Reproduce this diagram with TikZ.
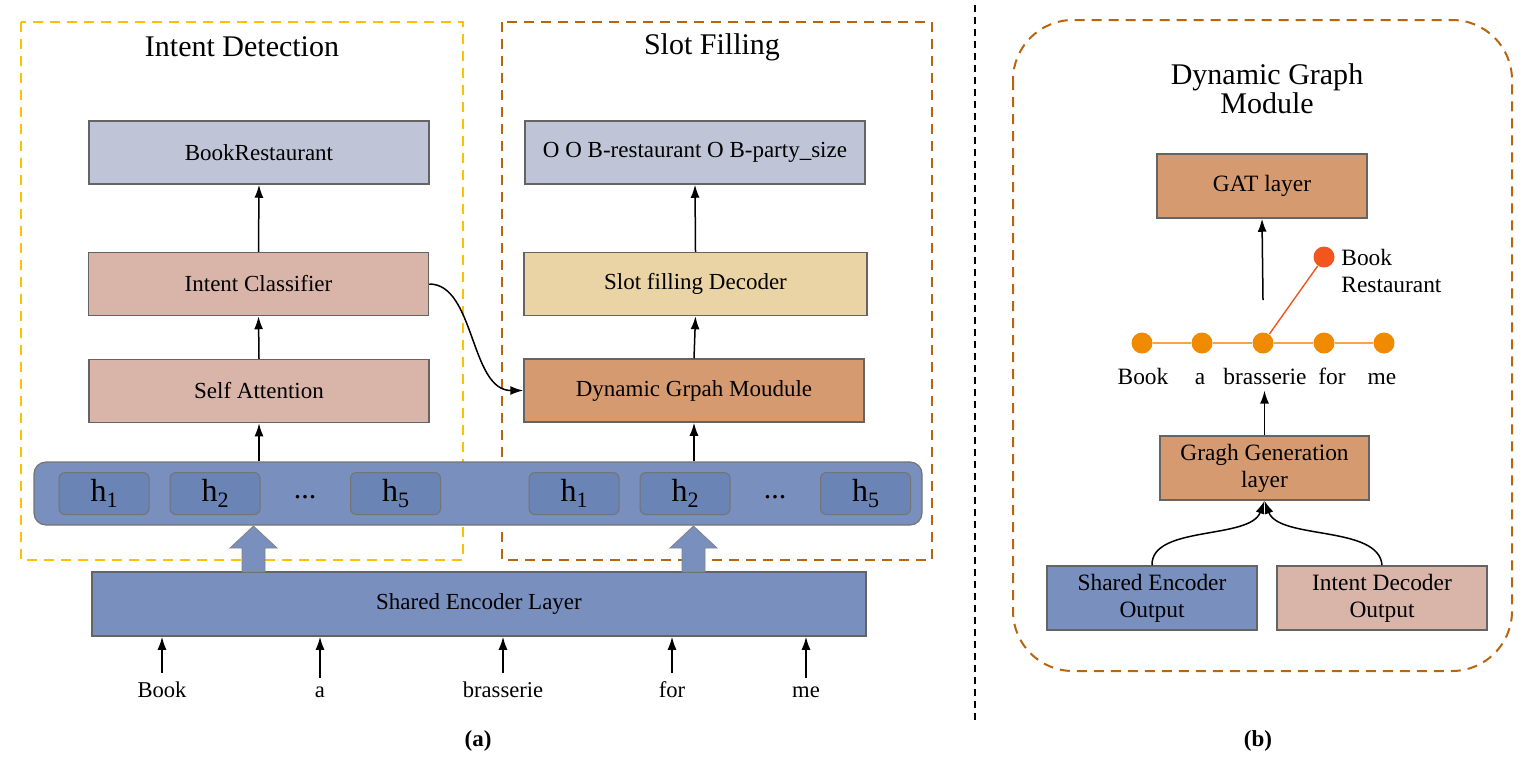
\documentclass[tikz,border=0pt]{standalone}
\usepackage{fontspec}
\setmainfont{Liberation Serif}
\usetikzlibrary{arrows.meta}
\definecolor{lav}{RGB}{191,196,214}
\definecolor{pinkb}{RGB}{217,180,168}
\definecolor{yelb}{RGB}{234,212,165}
\definecolor{orab}{RGB}{214,154,112}
\definecolor{blueb}{RGB}{121,143,190}
\definecolor{blueh}{RGB}{106,132,182}
\definecolor{yeld}{RGB}{255,192,0}
\definecolor{brownd}{RGB}{183,102,15}
\definecolor{gnode}{RGB}{240,138,0}
\definecolor{gline}{RGB}{245,165,70}
\definecolor{rnode}{RGB}{242,85,30}
\definecolor{bord}{RGB}{100,100,100}
\newcommand\hsub[1]{h\raisebox{-0.4ex}{\fontsize{11}{11}\selectfont #1}}
\tikzset{
  blk/.style={draw=bord, line width=0.75pt, minimum width=170pt, minimum height=31.5pt, inner sep=0pt, font=\fontsize{11.5}{13}\selectfont},
  sblk/.style={draw=bord, line width=0.75pt, minimum width=105pt, minimum height=32pt, inner sep=0pt, align=center, font=\fontsize{11.7}{13.5}\selectfont},
  hbox/.style={draw=bord!90, line width=0.5pt, fill=blueh, rounded corners=3pt, minimum width=45pt, minimum height=21pt, inner sep=0pt, font=\fontsize{16}{16}\selectfont},
  arr/.style={-{Latex[length=6.5pt,width=4.5pt]}, line width=0.75pt},
  word/.style={font=\fontsize{11.3}{13}\selectfont, anchor=base, inner ysep=4pt},
  gw/.style={font=\fontsize{11.7}{13}\selectfont, anchor=base, inner ysep=3pt},
  gnd/.style={circle, fill=gnode, minimum size=10.5pt, inner sep=0pt},
  ttl/.style={font=\fontsize{15}{18}\selectfont, align=center},
  dbox/.style={line width=1pt, dash pattern=on 5pt off 3.5pt},
  barrow/.style={fill=blueb, draw=bord!80, line width=0.4pt}
}
\begin{document}
\begin{tikzpicture}[x=0.5pt,y=-0.5pt]
\useasboundingbox (0,0) rectangle (1530,767);
% dashed frames
\draw[dbox, draw=yeld] (21,22) rectangle (463,560);
\draw[dbox, draw=brownd] (502,22) rectangle (932,560);
\draw[dbox, draw=brownd, rounded corners=30pt] (1013,20) rectangle (1512,671);
\draw[line width=0.6pt, dash pattern=on 3.5pt off 2.5pt] (975,5) -- (975,720);
% titles
\node[ttl] (tid) at (242,47) {Intent Detection};
\node[ttl] (tsf) at (712,47) {Slot Filling};
\node[ttl, font=\fontsize{15}{14.5}\selectfont] (tdg) at (1267,89) {Dynamic Graph\\Module};
% left column
\node[blk, fill=lav] (br) at (259,152.5) {BookRestaurant};
\node[blk, fill=pinkb] (ic) at (258.5,284) {Intent Classifier};
\node[blk, fill=pinkb] (sa) at (259,391) {Self Attention};
% right column
\node[blk, fill=lav] (so) at (695,152.5) {O O B-restaurant O B-party\_size};
\node[blk, fill=yelb, minimum width=171.5pt] (sd) at (695.5,284) {Slot filling Decoder};
\node[blk, fill=orab] (dg) at (694,390.5) {Dynamic Grpah Moudule};
% hidden bar
\node[draw=bord!90, line width=0.6pt, fill=blueb, rounded corners=6pt, minimum width=444pt, minimum height=31.5pt, inner sep=0pt] (bar) at (478,493.5) {};
\node[hbox] (h1l) at (104,493.5) {\hsub{1}};
\node[hbox] (h2l) at (215,493.5) {\hsub{2}};
\node[font=\fontsize{15}{15}\selectfont] (dl) at (305,497) {...};
\node[hbox] (h5l) at (395.5,493.5) {\hsub{5}};
\node[hbox] (h1r) at (574,493.5) {\hsub{1}};
\node[hbox] (h2r) at (685,493.5) {\hsub{2}};
\node[font=\fontsize{15}{15}\selectfont] (dr) at (775,497) {...};
\node[hbox] (h5r) at (865.5,493.5) {\hsub{5}};
% shared encoder
\node[blk, fill=blueb, minimum width=387pt, minimum height=32pt] (se) at (479,604) {Shared Encoder Layer};
% block arrows
\draw[barrow] (253.5,526) -- (277,548) -- (265,548) -- (265,572) -- (242,572) -- (242,548) -- (230,548) -- cycle;
\draw[barrow] (693.5,526) -- (717,548) -- (705,548) -- (705,572) -- (682,572) -- (682,548) -- (670,548) -- cycle;
% words
\node[word] (w1) at (162,697) {Book};
\node[word] (w2) at (320,697) {a};
\node[word] (w3) at (503,697) {brasserie};
\node[word] (w4) at (672,697) {for};
\node[word] (w5) at (806,697) {me};
\foreach \w in {w1,w2,w3,w4,w5} \draw[arr] (\w.north) -- (\w.north |- se.south);
% left arrows
\draw[arr] (bar.north -| sa.south) -- (sa.south);
\draw[arr] (sa.north) -- (ic.south);
\draw[arr] (ic.north) -- (br.south);
\draw[arr] (bar.north -| dg.south) -- (dg.south);
\draw[arr] (dg.north) -- (sd.south);
\draw[arr] (sd.north) -- (so.south);
\draw[arr] (ic.east) .. controls (475,284) and (470,390.5) .. (dg.west);
% captions
\node[font=\bfseries\fontsize{11.5}{13}\selectfont] (ca) at (478,741) {(a)};
\node[font=\bfseries\fontsize{11.5}{13}\selectfont] (cb) at (1258,741) {(b)};
% right panel
\node[sblk, fill=orab] (gat) at (1262,186) {GAT layer};
\node[sblk, fill=orab, minimum width=104.5pt] (gg) at (1264.5,468) {Gragh Generation\\layer};
\node[sblk, fill=blueb] (seo) at (1152,598) {Shared Encoder\\Output};
\node[sblk, fill=pinkb] (ido) at (1382,598) {Intent Decoder\\Output};
\node[gnd] (n1) at (1142,343) {};
\node[gnd] (n2) at (1202,343) {};
\node[gnd] (n3) at (1263,343) {};
\node[gnd] (n4) at (1324,343) {};
\node[gnd] (n5) at (1384,343) {};
\node[gnd, fill=rnode] (rn) at (1324,257) {};
\draw[gline, line width=0.7pt] (n1) -- (n2) (n2) -- (n3) (n3) -- (n4) (n4) -- (n5);
\draw[rnode, line width=0.7pt] (n3) -- (rn);
\node[align=left, anchor=west, font=\fontsize{11.7}{13.5}\selectfont, inner sep=0pt] (rl) at (1341,270.5) {Book\\Restaurant};
\node[gw] (g1) at (1143,384) {Book};
\node[gw] (g2) at (1200,384) {a};
\node[gw] (g3) at (1265,384) {brasserie};
\node[gw] (g4) at (1332,384) {for};
\node[gw] (g5) at (1382,384) {me};
\coordinate (gs) at (1263,300);
\draw[arr] (gs) -- (gat.south);
\draw[arr] (gg.north) -- (gg.north |- g3.south);
\draw[arr] (seo.north) .. controls (1151,525) and (1250,540) .. (gg.south);
\draw[arr] (ido.north) .. controls (1379,525) and (1279,540) .. (gg.south);
\end{tikzpicture}
\end{document}
